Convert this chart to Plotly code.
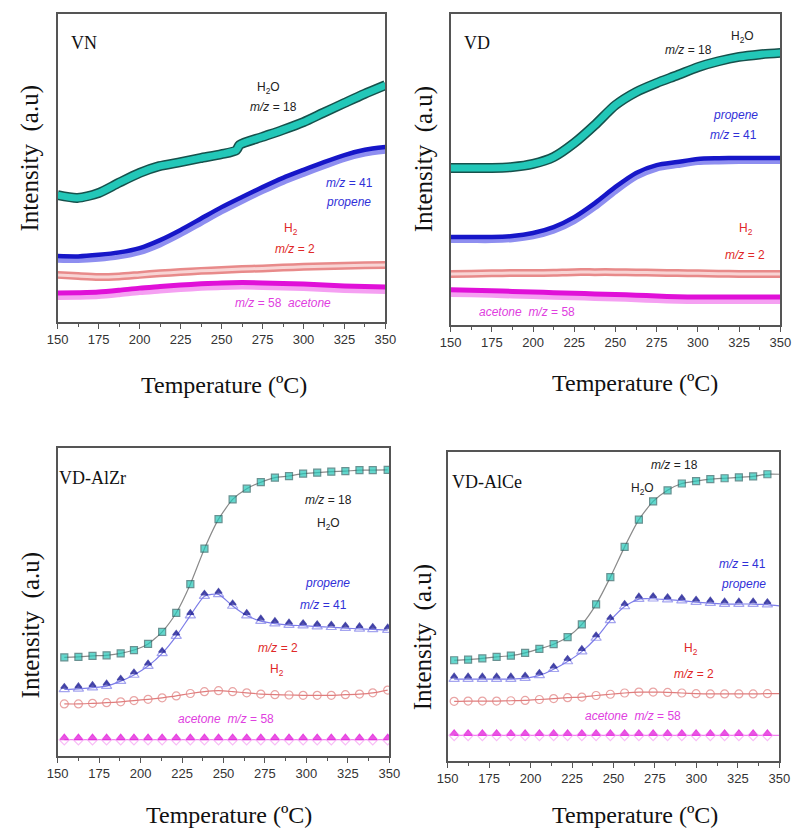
import plotly.graph_objects as go

W, H = 802, 830

# ---------------- data ----------------
# VN (dense recordings, drawn as bands)
VN_T_H2O = [150, 162, 175, 187, 200, 212, 225, 237, 250, 259, 261, 275, 287, 300, 312, 325, 337, 350]
VN_H2O = [41.2, 40.3, 41.9, 45.1, 48.4, 50.6, 51.9, 53.2, 54.5, 55.8, 57.5, 60.1, 62.3, 64.9, 67.9, 71.1, 74.0, 76.9]
VN_T = [150, 162.5, 175, 187.5, 200, 212.5, 225, 237.5, 250, 262.5, 275, 287.5, 300, 312.5, 325, 337.5, 350]
VN_PROP = [21.4, 21.3, 21.8, 22.6, 24.0, 26.6, 29.9, 33.6, 37.3, 40.6, 43.8, 46.8, 49.4, 51.9, 54.2, 55.9, 56.8]
VN_PROP_B = [20.2, 20.1, 20.5, 21.3, 22.7, 25.2, 28.5, 32.2, 35.9, 39.3, 42.5, 45.5, 48.1, 50.6, 53.0, 54.7, 55.6]
VN_H2 = [15.3, 14.9, 14.6, 14.8, 15.3, 15.8, 16.2, 16.6, 16.9, 17.2, 17.4, 17.7, 17.9, 18.1, 18.3, 18.4, 18.5]
VN_ACE = [9.4, 9.5, 9.7, 10.3, 11.0, 11.5, 12.0, 12.4, 12.7, 12.8, 12.7, 12.5, 12.3, 12.0, 11.7, 11.5, 11.4]
VN_ACE_B = [8.1, 8.2, 8.4, 9.0, 9.7, 10.2, 10.7, 11.1, 11.4, 11.5, 11.4, 11.2, 11.0, 10.7, 10.4, 10.2, 10.1]

# VD (dense recordings, drawn as bands)
VD_T = [150, 162.5, 175, 187.5, 200, 212.5, 225, 237.5, 250, 262.5, 275, 287.5, 300, 312.5, 325, 337.5, 350]
VD_H2O = [50.5, 50.5, 50.5, 50.8, 51.8, 54.0, 58.5, 64.3, 70.7, 74.9, 77.8, 80.3, 82.9, 84.8, 86.2, 87.0, 87.5]
VD_PROP = [28.3, 28.3, 28.3, 28.6, 29.6, 31.5, 34.7, 39.2, 44.4, 48.9, 51.4, 52.4, 53.4, 53.6, 53.7, 53.7, 53.7]
VD_PROP_B = [27.3, 27.3, 27.3, 27.6, 28.5, 30.3, 33.4, 37.8, 43.0, 47.6, 50.3, 51.4, 52.4, 52.6, 52.7, 52.7, 52.7]
VD_H2 = [16.4, 16.5, 16.6, 16.7, 16.7, 16.8, 17.0, 17.0, 17.0, 16.9, 16.8, 16.7, 16.6, 16.5, 16.4, 16.4, 16.4]
VD_ACE = [11.3, 11.2, 11.0, 10.8, 10.6, 10.4, 10.2, 10.0, 9.8, 9.6, 9.3, 9.1, 9.0, 9.0, 9.0, 9.0, 9.0]
VD_ACE_B = [10.0, 9.9, 9.7, 9.5, 9.3, 9.1, 8.9, 8.7, 8.5, 8.3, 8.0, 7.8, 7.7, 7.7, 7.7, 7.7, 7.7]

# VD-AlZr (marker every ~8.5 degC)
ZR_T = [154, 162.5, 171, 179.5, 188, 196, 204.5, 213, 221.5, 230, 238.5, 247, 255.5, 264,
        272.5, 281, 289.5, 298, 306.5, 315, 323.5, 332, 340, 349]
ZR_H2O = [32.0, 32.2, 32.5, 32.7, 33.3, 34.4, 36.4, 40.3, 46.5, 55.8, 67.3, 76.9, 83.3, 86.8,
          88.9, 90.4, 90.9, 91.7, 92.0, 92.3, 92.5, 92.8, 92.8, 92.9]
ZR_PROP = [22.5, 22.7, 23.1, 23.6, 25.2, 27.2, 30.1, 34.2, 39.8, 46.5, 52.8, 53.4, 49.6, 46.5,
           44.7, 43.9, 43.4, 43.2, 42.9, 42.7, 42.4, 42.2, 42.0, 41.8]
ZR_PROP_B = [21.6, 21.8, 22.2, 22.7, 24.3, 26.3, 29.2, 33.3, 38.9, 45.6, 51.9, 52.5, 48.7, 45.6,
             43.8, 43.0, 42.5, 42.3, 42.0, 41.8, 41.5, 41.3, 41.1, 40.9]
ZR_H2 = [16.9, 16.9, 17.1, 17.3, 17.6, 18.0, 18.4, 18.9, 19.5, 20.3, 20.9, 21.2, 20.9, 20.5,
         20.1, 19.9, 19.8, 19.7, 19.7, 19.7, 19.9, 20.1, 20.5, 21.4]
ZR_ACE = [5.9] * 24
ZR_ACE_B = [5.3] * 24

# VD-AlCe (marker every ~8.6 degC; record continues to 350)
CE_T = [153.9, 162.3, 170.9, 179.5, 188.1, 196.7, 205.3, 213.9, 222.3, 230.9, 239.5, 248.1,
        256.7, 265.3, 273.9, 282.6, 291.2, 299.8, 308.4, 317.0, 325.6, 334.2, 342.8, 350]
CE_H2O = [32.6, 32.8, 33.2, 33.7, 34.1, 35.0, 36.3, 37.8, 40.1, 44.2, 50.7, 59.5, 69.3, 78.1,
          84.0, 87.6, 89.8, 90.6, 91.2, 91.5, 91.8, 92.1, 92.8, 92.8]
CE_PROP = [27.4, 27.4, 27.4, 27.4, 27.4, 27.7, 28.6, 30.6, 33.1, 36.3, 40.7, 46.4, 50.9, 53.3,
           53.4, 53.1, 52.8, 52.3, 52.0, 51.7, 51.7, 51.7, 51.5, 51.1]
CE_PROP_B = [26.5, 26.5, 26.5, 26.5, 26.5, 26.8, 27.7, 29.7, 32.2, 35.4, 39.8, 45.5, 50.0, 52.4,
             52.5, 52.2, 51.9, 51.4, 51.1, 50.8, 50.8, 50.8, 50.6, 50.2]
CE_H2 = [19.3, 19.4, 19.4, 19.4, 19.5, 19.6, 19.9, 20.2, 20.5, 20.7, 21.2, 21.6, 22.0, 22.3,
         22.3, 22.2, 22.0, 21.8, 21.7, 21.7, 21.7, 21.7, 21.8, 21.8]
CE_ACE = [8.9] * 24
CE_ACE_B = [8.3] * 24

X_TICKS = [150, 175, 200, 225, 250, 275, 300, 325, 350]

# ---------------- styles ----------------
TEAL, TEAL_DK = "#22c7b8", "#16514c"
BLUE, BLUE_LT = "#1616c8", "#8e8ef0"
PINK, PINK_LT = "#e88a8a", "#f8d4d4"
MAG, MAG_LT = "#e010d8", "#f5a0f2"

# panel domains from pixel boxes (left, top, right, bottom)
BOXES = [(48, 14, 385, 322), (452, 14, 791, 325), (48, 448, 389, 756), (449, 452, 790, 761)]

fig = go.Figure()


def ax_names(i):
    return ("x" if i == 0 else f"x{i+1}", "y" if i == 0 else f"y{i+1}")


def band(i, t, y, color, width):
    xa, ya = ax_names(i)
    fig.add_trace(go.Scatter(x=t, y=y, mode="lines", xaxis=xa, yaxis=ya,
                             line=dict(color=color, width=width, shape="spline", smoothing=0.7),
                             hoverinfo="skip", showlegend=False))


def marked(i, t, y, lcolor, sym, msize, mcolor, mline, lwidth=1.2, show_line=True, last_hidden=False):
    xa, ya = ax_names(i)
    sizes = [msize] * len(t)
    if last_hidden:
        sizes[-1] = 0
    fig.add_trace(go.Scatter(x=t, y=y, mode="lines+markers" if show_line else "markers",
                             xaxis=xa, yaxis=ya,
                             line=dict(color=lcolor, width=lwidth, shape="spline", smoothing=0.6),
                             marker=dict(symbol=sym, size=sizes, color=mcolor,
                                         line=dict(color=mline, width=1.2)),
                             hoverinfo="skip", showlegend=False))


# Panel VN
band(0, VN_T, VN_ACE_B, MAG_LT, 6)
band(0, VN_T, VN_ACE, MAG, 5)
band(0, VN_T, VN_H2, PINK, 8)
band(0, VN_T, VN_H2, PINK_LT, 3)
band(0, VN_T, VN_PROP_B, BLUE_LT, 6)
band(0, VN_T, VN_PROP, BLUE, 4.5)
band(0, VN_T_H2O, VN_H2O, TEAL_DK, 10)
band(0, VN_T_H2O, VN_H2O, TEAL, 7)

# Panel VD
band(1, VD_T, VD_ACE_B, MAG_LT, 6)
band(1, VD_T, VD_ACE, MAG, 5)
band(1, VD_T, VD_H2, PINK, 8)
band(1, VD_T, VD_H2, PINK_LT, 3)
band(1, VD_T, VD_PROP_B, BLUE_LT, 6)
band(1, VD_T, VD_PROP, BLUE, 4.5)
band(1, VD_T, VD_H2O, TEAL_DK, 10)
band(1, VD_T, VD_H2O, TEAL, 7)

# Panel VD-AlZr
marked(2, ZR_T, ZR_ACE_B, "#f27ff0", "diamond-open", 8, MAG_LT, MAG_LT)
marked(2, ZR_T, ZR_ACE, "#f27ff0", "triangle-up", 7, MAG, MAG, show_line=False)
marked(2, ZR_T, ZR_H2, "#e07d7d", "circle-open", 8, "#e07d7d", "#e07d7d")
marked(2, ZR_T, ZR_PROP_B, "#7d7de8", "triangle-up-open", 9, "#7d7de8", "#7d7de8")
marked(2, ZR_T, ZR_PROP, "#7d7de8", "triangle-up", 6, "#10108a", "#10108a", show_line=False)
marked(2, ZR_T, ZR_H2O, "#8a8a8a", "square", 7, TEAL, "#2a6464")

# Panel VD-AlCe
marked(3, CE_T, CE_ACE_B, "#f27ff0", "diamond-open", 8, MAG_LT, MAG_LT, last_hidden=True)
marked(3, CE_T, CE_ACE, "#f27ff0", "triangle-up", 7, MAG, MAG, show_line=False, last_hidden=True)
marked(3, CE_T, CE_H2, "#e07d7d", "circle-open", 8, "#e07d7d", "#e07d7d", last_hidden=True)
marked(3, CE_T, CE_PROP_B, "#7d7de8", "triangle-up-open", 9, "#7d7de8", "#7d7de8", last_hidden=True)
marked(3, CE_T, CE_PROP, "#7d7de8", "triangle-up", 6, "#10108a", "#10108a", show_line=False, last_hidden=True)
marked(3, CE_T, CE_H2O, "#8a8a8a", "square", 7, TEAL, "#2a6464", last_hidden=True)

layout = dict(width=W, height=H, margin=dict(l=0, r=0, t=0, b=0),
              paper_bgcolor="white", plot_bgcolor="white", showlegend=False)

for i, (l, t, r, b) in enumerate(BOXES):
    xk = "xaxis" if i == 0 else f"xaxis{i+1}"
    yk = "yaxis" if i == 0 else f"yaxis{i+1}"
    xa, ya = ax_names(i)
    layout[xk] = dict(domain=[l / W, r / W], range=[150, 350], anchor=ya,
                      tickvals=X_TICKS, ticktext=[str(v) for v in X_TICKS],
                      ticks="outside", ticklen=5, tickwidth=1.3, tickcolor="#555",
                      minor=dict(tickvals=[162.5, 187.5, 212.5, 237.5, 262.5, 287.5, 312.5, 337.5],
                                 ticks="outside", ticklen=3, tickwidth=1.2, tickcolor="#555"),
                      showline=True, linecolor="#555", linewidth=1.5, mirror=True,
                      showgrid=False, zeroline=False,
                      tickfont=dict(family="Liberation Sans", size=13, color="#333"))
    layout[yk] = dict(domain=[1 - b / H, 1 - t / H], range=[0, 100], anchor=xa,
                      showticklabels=False, ticks="", showline=True, linecolor="#555",
                      linewidth=1.5, mirror=True, showgrid=False, zeroline=False)

fig.update_layout(**layout)


def ann(px, py, text, size=12, color="#222", family="Liberation Sans", angle=0):
    fig.add_annotation(x=px / W, y=1 - py / H, xref="paper", yref="paper", text=text,
                       showarrow=False, xanchor="center", yanchor="middle", textangle=angle,
                       font=dict(family=family, size=size, color=color))


SERIF = "Liberation Serif"
H2O_C, PROP_C, H2_C, ACE_C = "#222222", "#3030d8", "#e02828", "#e040e0"

# axis titles
for (cx, cy) in [(219, 385), (642, 383), (224, 815), (642, 815)]:
    ann(cx, cy, "Temperature (ºC)", size=24, color="#111", family=SERIF)
for (cx, cy) in [(20, 158), (425, 159), (21, 625), (424, 637)]:
    ann(cx, cy, "Intensity  (a.u)", size=25, color="#111", family=SERIF, angle=-90)

# panel names
ann(75, 43, "VN", size=18, color="#111", family=SERIF)
ann(479, 43, "VD", size=18, color="#111", family=SERIF)
ann(84, 478, "VD-AlZr", size=18, color="#111", family=SERIF)
ann(489, 482, "VD-AlCe", size=18, color="#111", family=SERIF)

# VN labels
ann(265, 88, "H<sub>2</sub>O", color=H2O_C)
ann(270, 107, "<i>m/z</i> = 18", color=H2O_C)
ann(348, 183, "<i>m/z</i> = 41", color=PROP_C)
ann(347, 202, "<i>propene</i>", color=PROP_C)
ann(288, 229, "H<sub>2</sub>", color=H2_C)
ann(292, 249, "<i>m/z</i> = 2", color=H2_C)
ann(280, 303, "<i>m/z</i> = 58  <i>acetone</i>", color=ACE_C)

# VD labels
ann(697, 50, "<i>m/z</i> = 18", color=H2O_C)
ann(752, 37, "H<sub>2</sub>O", color=H2O_C)
ann(745, 115, "<i>propene</i>", color=PROP_C)
ann(743, 135, "<i>m/z</i> = 41", color=PROP_C)
ann(756, 229, "H<sub>2</sub>", color=H2_C)
ann(755, 255, "<i>m/z</i> = 2", color=H2_C)
ann(531, 312, "<i>acetone</i>  <i>m/z</i> = 58", color=ACE_C)

# VD-AlZr labels
ann(326, 500, "<i>m/z</i> = 18", color=H2O_C)
ann(326, 524, "H<sub>2</sub>O", color=H2O_C)
ann(325, 583, "<i>propene</i>", color=PROP_C)
ann(321, 605, "<i>m/z</i> = 41", color=PROP_C)
ann(275, 648, "<i>m/z</i> = 2", color=H2_C)
ann(273, 670, "H<sub>2</sub>", color=H2_C)
ann(221, 719, "<i>acetone</i>  <i>m/z</i> = 58", color=ACE_C)

# VD-AlCe labels
ann(682, 465, "<i>m/z</i> = 18", color=H2O_C)
ann(649, 489, "H<sub>2</sub>O", color=H2O_C)
ann(752, 564, "<i>m/z</i> = 41", color=PROP_C)
ann(753, 584, "<i>propene</i>", color=PROP_C)
ann(699, 649, "H<sub>2</sub>", color=H2_C)
ann(702, 674, "<i>m/z</i> = 2", color=H2_C)
ann(640, 716, "<i>acetone</i>  <i>m/z</i> = 58", color=ACE_C)

fig.write_html("out.html")
